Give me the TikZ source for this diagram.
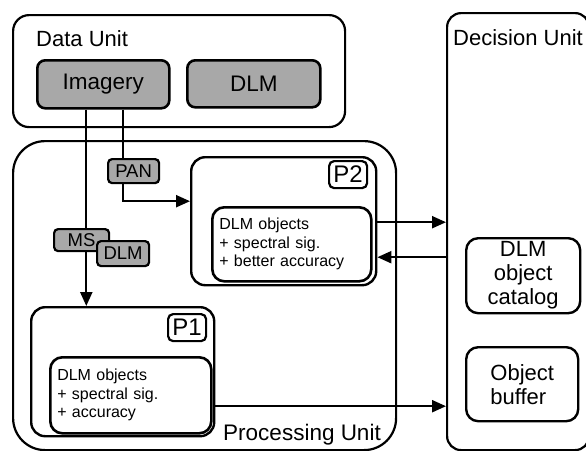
\documentclass[tikz,border=0pt]{standalone}
\usepackage{fontspec}
\setmainfont{Liberation Sans}
\usetikzlibrary{arrows.meta,calc}
\definecolor{boxgray}{HTML}{A8A8A8}
\begin{document}
\begin{tikzpicture}[x=1pt,y=-1pt,
  unitbox/.style={draw, line width=2.2pt, rounded corners=16pt, anchor=north west, inner sep=0pt},
  bigunit/.style={unitbox, rounded corners=32pt},
  procbox/.style={draw, line width=2.4pt, rounded corners=14pt, anchor=north west, inner sep=0pt},
  innerbox/.style={draw, line width=2.6pt, rounded corners=12pt, anchor=north west, inner xsep=7pt, inner ysep=0pt, align=left, font=\fontsize{16}{18.5}\selectfont},
  graybox/.style={draw, line width=2.6pt, rounded corners=8pt, fill=boxgray, anchor=north west, inner sep=0pt, font=\fontsize{22.5}{24}\selectfont},
  taglabel/.style={draw, line width=2.2pt, rounded corners=4pt, fill=boxgray, anchor=north west, inner sep=0pt, font=\fontsize{18.5}{20}\selectfont},
  pbox/.style={draw, line width=2.2pt, rounded corners=5pt, anchor=north west, inner sep=0pt, font=\fontsize{24}{26}\selectfont},
  decbox/.style={draw, line width=2.4pt, rounded corners=12pt, anchor=north west, inner sep=0pt, font=\fontsize{22}{24}\selectfont},
  title/.style={font=\fontsize{22}{24}\selectfont, inner sep=0pt},
  arr/.style={line width=2.2pt, -{Triangle[length=14pt,width=12pt]}}
]
\useasboundingbox (0,0) rectangle (586,450);

% units
\node[unitbox, minimum width=332pt, minimum height=112pt] (data) at (12,14) {};
\node[title, anchor=base west] (datat) at (36,46) {Data Unit};
\node[graybox, minimum width=132pt, minimum height=48pt] (imagery) at (36,59) {Imagery};
\node[graybox, minimum width=133pt, minimum height=47pt] (dlm) at (186,59) {DLM};

\node[unitbox, rounded corners=14pt, minimum width=142pt, minimum height=437pt] (dec) at (446,12) {};
\node[title, anchor=base west] (dect) at (453,45) {Decision Unit};
\node[decbox, align=center, minimum width=114pt, minimum height=75pt] (cat) at (465,237) {DLM\\object\\catalog};
\node[decbox, align=left, minimum width=112pt, minimum height=74pt] (buf) at (465,346) {Object\\buffer};

\node[bigunit, minimum width=383pt, minimum height=309pt] (proc) at (12,140) {};
\node[title, font=\fontsize{22.5}{24}\selectfont, anchor=base east] (proct) at (381,440) {Processing Unit};

% P2
\node[procbox, minimum width=185pt, minimum height=128pt] (p2) at (190,156) {};
\node[innerbox, text width=145pt, minimum height=74pt] (p2in) at (211,206) {DLM objects\\+ spectral sig.\\+ better accuracy};
\node[pbox, minimum width=38pt, minimum height=27pt] (p2l) at (328,160) {P2};

% P1
\node[procbox, minimum width=183pt, minimum height=129pt] (p1) at (30,306) {};
\node[innerbox, text width=147pt, minimum height=76pt] (p1in) at (49,356) {DLM objects\\+ spectral sig.\\+ accuracy};
\node[pbox, minimum width=38pt, minimum height=27pt] (p1l) at (167,313) {P1};

% connectors
\draw[arr] ([xshift=-17pt]imagery.south) -- ([xshift=-17pt]imagery.south |- p1.north);
\draw[arr] ([xshift=20pt]imagery.south) |- ([yshift=20pt]p2.west);
\draw[arr] ([yshift=-1pt]p2.east) -- ([yshift=-1pt]p2.east -| dec.west);
\draw[arr] ([yshift=-36pt]p2.east -| dec.west) -- ([yshift=-36pt]p2.east);
\draw[arr] ([yshift=-34.5pt]p1.east) -- ([yshift=-34.5pt]p1.east -| dec.west);

% tags
\node[taglabel, minimum width=51pt, minimum height=24pt] (pan) at (107,158) {PAN};
\node[taglabel, minimum width=55pt, minimum height=22pt] (ms) at (53,228) {MS};
\node[taglabel, minimum width=52pt, minimum height=25pt] (dlmtag) at (96,240) {DLM};
\end{tikzpicture}
\end{document}
